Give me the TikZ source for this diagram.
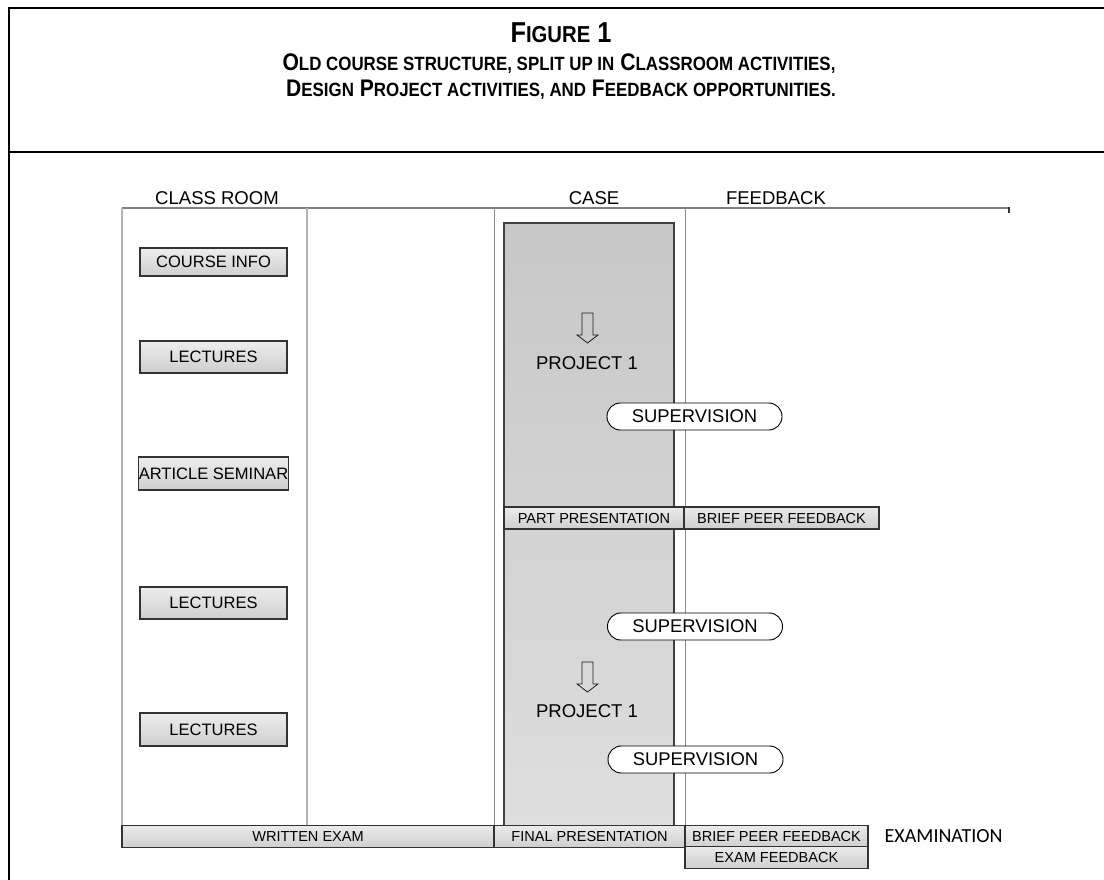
\documentclass[tikz,border=0pt]{standalone}
\usepackage{fontspec}
\setmainfont{Liberation Sans}
\newfontfamily\calfont{Carlito}
\newfontfamily\narrowfont[FakeStretch=0.88]{Liberation Sans}
\newcommand{\smc}[1]{{\fontsize{14.4}{17}\selectfont #1}}
\newcommand{\bigsmc}[1]{{\fontsize{17.3}{20}\selectfont #1}}

\tikzset{
  frameline/.style={line width=1.5pt, black},
  colline/.style={line width=1.1pt, black!30},
  thincolline/.style={line width=0.7pt, black!45},
  lbox/.style={draw=black!80, line width=0.8pt, top color=black!7, bottom color=black!19, minimum width=110.25pt, minimum height=23.25pt, inner sep=0pt, font=\fontsize{12.4}{14}\selectfont},
  bar/.style={draw=black!80, line width=0.8pt, top color=black!8, bottom color=black!19, minimum height=16.5pt, inner sep=0pt, font=\fontsize{10.9}{12}\selectfont},
  pill/.style={draw=black, line width=0.7pt, fill=white, rounded corners=10pt, minimum width=131.25pt, minimum height=20.25pt, inner sep=0pt, font=\fontsize{13.8}{15}\selectfont},
  caserect/.style={draw=black!75, line width=0.8pt, top color=black!22, bottom color=black!13, minimum width=127.5pt, minimum height=452.25pt, inner sep=0pt},
  heading/.style={font=\fontsize{13.9}{15}\selectfont},
  titleline/.style={anchor=base, font=\narrowfont\fontsize{18}{20}\selectfont\bfseries},
  hollowarrow/.style={draw=black!90, line width=0.6pt}
}

\begin{document}
\begin{tikzpicture}[x=0.75pt,y=0.75pt,yscale=-1]
\useasboundingbox (0,0) rectangle (1104,880);

%Shape: Frame
\draw[frameline] (1104,8) -- (9,8) -- (9,880);
\draw[frameline] (9,152) -- (1104,152);

% Text Node
\node[titleline, font=\narrowfont\fontsize{21.6}{24}\selectfont\bfseries] (fig) at (561,43) {F\bigsmc{IGURE} 1};
% Text Node
\node[titleline] (title1) at (559,70.5) {O\smc{LD COURSE STRUCTURE, SPLIT UP IN} C\smc{LASSROOM ACTIVITIES,}};
% Text Node
\node[titleline] (title2) at (561,96.5) {D\smc{ESIGN} P\smc{ROJECT ACTIVITIES, AND} F\smc{EEDBACK OPPORTUNITIES.}};

% Text Node
\node[heading] (classroom) at (217,198) {CLASS ROOM};
\node[heading] (case) at (594,198) {CASE};
\node[heading] (feedback) at (776,198) {FEEDBACK};

%Straight Lines
\draw[line width=1.2pt, black!50] (122,208) -- (1009,208);
\draw[line width=1pt, black!80] (1009,207.5) -- (1009,213);
\foreach \x in {122,307}
  \draw[colline] (\x,208) -- (\x,826);
\foreach \x in {494,685}
  \draw[thincolline] (\x,208) -- (\x,826);

%Shape: Rectangle
\node[caserect] (caserect) at (589,524.5) {};

% Classroom boxes
\node[lbox, minimum height=21pt] (info) at (213.5,262) {COURSE INFO};
\node[lbox, minimum height=24pt] (lect1) at (213.5,357) {LECTURES};
\node[lbox, minimum height=24.75pt] (seminar) at (213.5,473.5) {ARTICLE SEMINAR};
\node[lbox, minimum height=24pt] (lect2) at (213.5,603) {LECTURES};
\node[lbox, minimum height=24.75pt] (lect3) at (213.5,729.5) {LECTURES};

%Shape: Arrows
\foreach \y in {313,662}
  \draw[hollowarrow] (582,\y) -- (593,\y) -- (593,\y+22) -- (598,\y+22) -- (587.5,\y+30) -- (577,\y+22) -- (582,\y+22) -- cycle;

% Text Node
\node[heading] (proj1) at (587,363) {PROJECT 1};
\node[heading] (proj2) at (587,711) {PROJECT 1};

% Supervision
\node[pill] (sup1) at (694.5,416.5) {SUPERVISION};
\node[pill] (sup2) at (695,626.5) {SUPERVISION};
\node[pill] (sup3) at (695.5,759.5) {SUPERVISION};

% Bars
\node[bar, minimum width=135pt] (partpres) at (594,518) {PART PRESENTATION};
\node[bar, minimum width=146.25pt] (peer1) at (781.5,518) {BRIEF PEER FEEDBACK};
\node[bar, minimum width=279pt] (written) at (308,836.5) {WRITTEN EXAM};
\node[bar, minimum width=143.25pt] (finalpres) at (589.5,836.5) {FINAL PRESENTATION};
\node[bar, minimum width=137.25pt] (peer2) at (776.5,836.5) {BRIEF PEER FEEDBACK};
\node[bar, minimum width=137.25pt] (examfb) at (776.5,857.5) {EXAM FEEDBACK};

% Text Node
\node[anchor=west, font=\calfont\fontsize{15}{17}\selectfont] (exam) at (880,836.5) {EXAMINATION};

\end{tikzpicture}
\end{document}
